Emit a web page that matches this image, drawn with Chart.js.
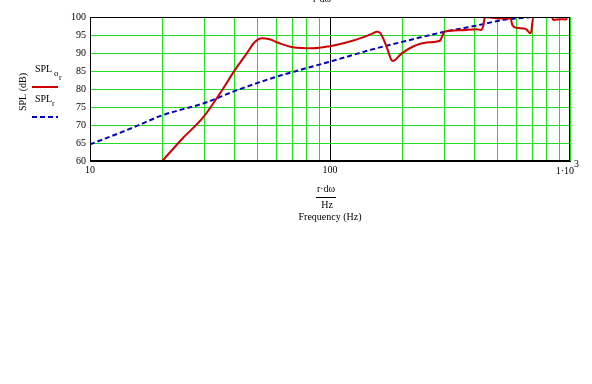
<!DOCTYPE html>
<html><head><meta charset="utf-8">
<script src="https://cdn.jsdelivr.net/npm/chart.js@4/dist/chart.umd.min.js"></script>
<style>html,body{margin:0;padding:0;background:#fff;}canvas{display:block;}</style>
</head><body>
<canvas id="c" width="592" height="384"></canvas>
<script>
const xTicks = [10,20,30,40,50,60,70,80,90,100,200,300,400,500,600,700,800,900,1000];
const xLabelTicks = [10,100];
const yTicks = [60,65,70,75,80,85,90,95,100];

const redFreq = [20,24.4,29.6,34.8,40.2,45,48.7,52,56,60,70,85,100,117,138,150,157,162,172,180,183,199,222,253,287,293,300,350,408,425,435,442,511,565,575,600,640,660,681,690,703,840,851,922,960,975,1000];
const redSPL  = [60,66.4,72.1,78.8,85.3,89.9,93.1,94.1,93.8,93.0,91.6,91.3,91.9,92.9,94.4,95.4,95.9,95.5,91.8,88.1,87.8,89.9,91.8,92.9,93.4,94.5,95.9,96.3,96.6,96.4,97.5,100,99.6,99.6,97.8,97.0,96.8,96.5,95.5,96,100,100,99.2,99.4,99.3,100,100];

const blueFreq = [10,15,20,30,40,56,75,100,150,200,300,400,530,700,850,1000];
const blueSPL  = [64.6,69.2,72.7,76.1,79.4,82.8,85.3,87.6,91.0,93.1,95.9,97.5,99.2,100.0,100.4,100.9];

const FONT = '"Liberation Serif","Times New Roman",serif';
const GREEN = '#22dd22';

const textPlugin = {
  id: 'texts',
  afterDraw(chart) {
    const ctx = chart.ctx;
    const xs = chart.scales.x;
    ctx.save();
    ctx.fillStyle = '#000';
    const x1000 = xs.getPixelForValue(1000);
    ctx.font = '10px ' + FONT;
    ctx.textBaseline = 'alphabetic';
    ctx.textAlign = 'right';
    ctx.fillText('1\u00b710', x1000 + 4, 174);
    ctx.textAlign = 'left';
    ctx.fillText('3', x1000 + 4, 167);
    const cx = 326;
    ctx.textAlign = 'center';
    ctx.fillText('r\u00b7d\u03c9', cx, 192);
    ctx.fillRect(cx - 10, 197, 20, 1);
    ctx.fillText('Hz', cx + 1, 208);
    ctx.fillText('Frequency (Hz)', 330, 220);
    ctx.fillText('r\u00b7d\u03c9', 322, 2);
    ctx.save();
    ctx.translate(26, 92);
    ctx.rotate(-Math.PI / 2);
    ctx.textAlign = 'center';
    ctx.fillText('SPL (dB)', 0, 0);
    ctx.restore();
    ctx.textAlign = 'left';
    ctx.fillText('SPL', 35, 72);
    ctx.font = '9px ' + FONT;
    ctx.fillText('o', 54, 76);
    ctx.font = '8px ' + FONT;
    ctx.fillText('r', 59, 80);
    ctx.strokeStyle = '#d00000';
    ctx.lineWidth = 2;
    ctx.beginPath(); ctx.moveTo(32, 87); ctx.lineTo(58, 87); ctx.stroke();
    ctx.font = '10px ' + FONT;
    ctx.fillText('SPL', 35, 102);
    ctx.font = '8px ' + FONT;
    ctx.fillText('r', 52, 106);
    ctx.strokeStyle = '#0000c0';
    ctx.setLineDash([5, 3]);
    ctx.beginPath(); ctx.moveTo(32, 117); ctx.lineTo(58, 117); ctx.stroke();
    ctx.restore();
  }
};

new Chart(document.getElementById('c'), {
  type: 'scatter',
  data: {
    datasets: [
      {
        label: 'SPL o r',
        data: redFreq.map((f, i) => ({x: f, y: redSPL[i]})),
        showLine: true, borderColor: '#d00000', borderWidth: 2,
        pointRadius: 0, cubicInterpolationMode: 'monotone', fill: false
      },
      {
        label: 'SPL r',
        data: blueFreq.map((f, i) => ({x: f, y: blueSPL[i]})),
        showLine: true, borderColor: '#0000c0', borderWidth: 2, borderDash: [5, 3],
        pointRadius: 0, cubicInterpolationMode: 'monotone', fill: false
      }
    ]
  },
  options: {
    responsive: false, animation: false, devicePixelRatio: 1,
    layout: {padding: {left: 0, top: 17, right: 22, bottom: 0}},
    plugins: {legend: {display: false}, tooltip: {enabled: false}},
    scales: {
      x: {
        type: 'logarithmic', min: 10, max: 1000,
        afterBuildTicks(s) { s.ticks = xTicks.map(v => ({value: v})); },
        afterFit(s) { s.height = 223; },
        grid: {
          drawTicks: false,
          color: c => (c.tick && c.tick.value === 100) ? '#000' : GREEN,
          lineWidth: 1
        },
        border: {color: '#000', width: 1},
        ticks: {
          autoSkip: false, maxRotation: 0, padding: 3, color: '#000',
          font: {family: FONT, size: 10},
          callback: v => xLabelTicks.includes(v) ? String(v) : ''
        }
      },
      y: {
        min: 60, max: 100,
        afterBuildTicks(s) { s.ticks = yTicks.map(v => ({value: v})); },
        afterFit(s) { s.width = 90; },
        grid: {drawTicks: false, color: GREEN, lineWidth: 1},
        border: {color: '#000', width: 1},
        ticks: {padding: 4, color: '#000', font: {family: FONT, size: 10}}
      }
    }
  },
  plugins: [textPlugin, {
    id: 'frame',
    afterDatasetsDraw(chart) {
      const a = chart.chartArea, ctx = chart.ctx;
      ctx.save(); ctx.strokeStyle = '#000'; ctx.lineWidth = 1;
      ctx.strokeRect(Math.round(a.left) + 0.5, Math.round(a.top) + 0.5, Math.round(a.right - a.left) - 1, Math.round(a.bottom - a.top) - 1);
      ctx.restore();
    }
  }]
});
</script>
</body></html>
